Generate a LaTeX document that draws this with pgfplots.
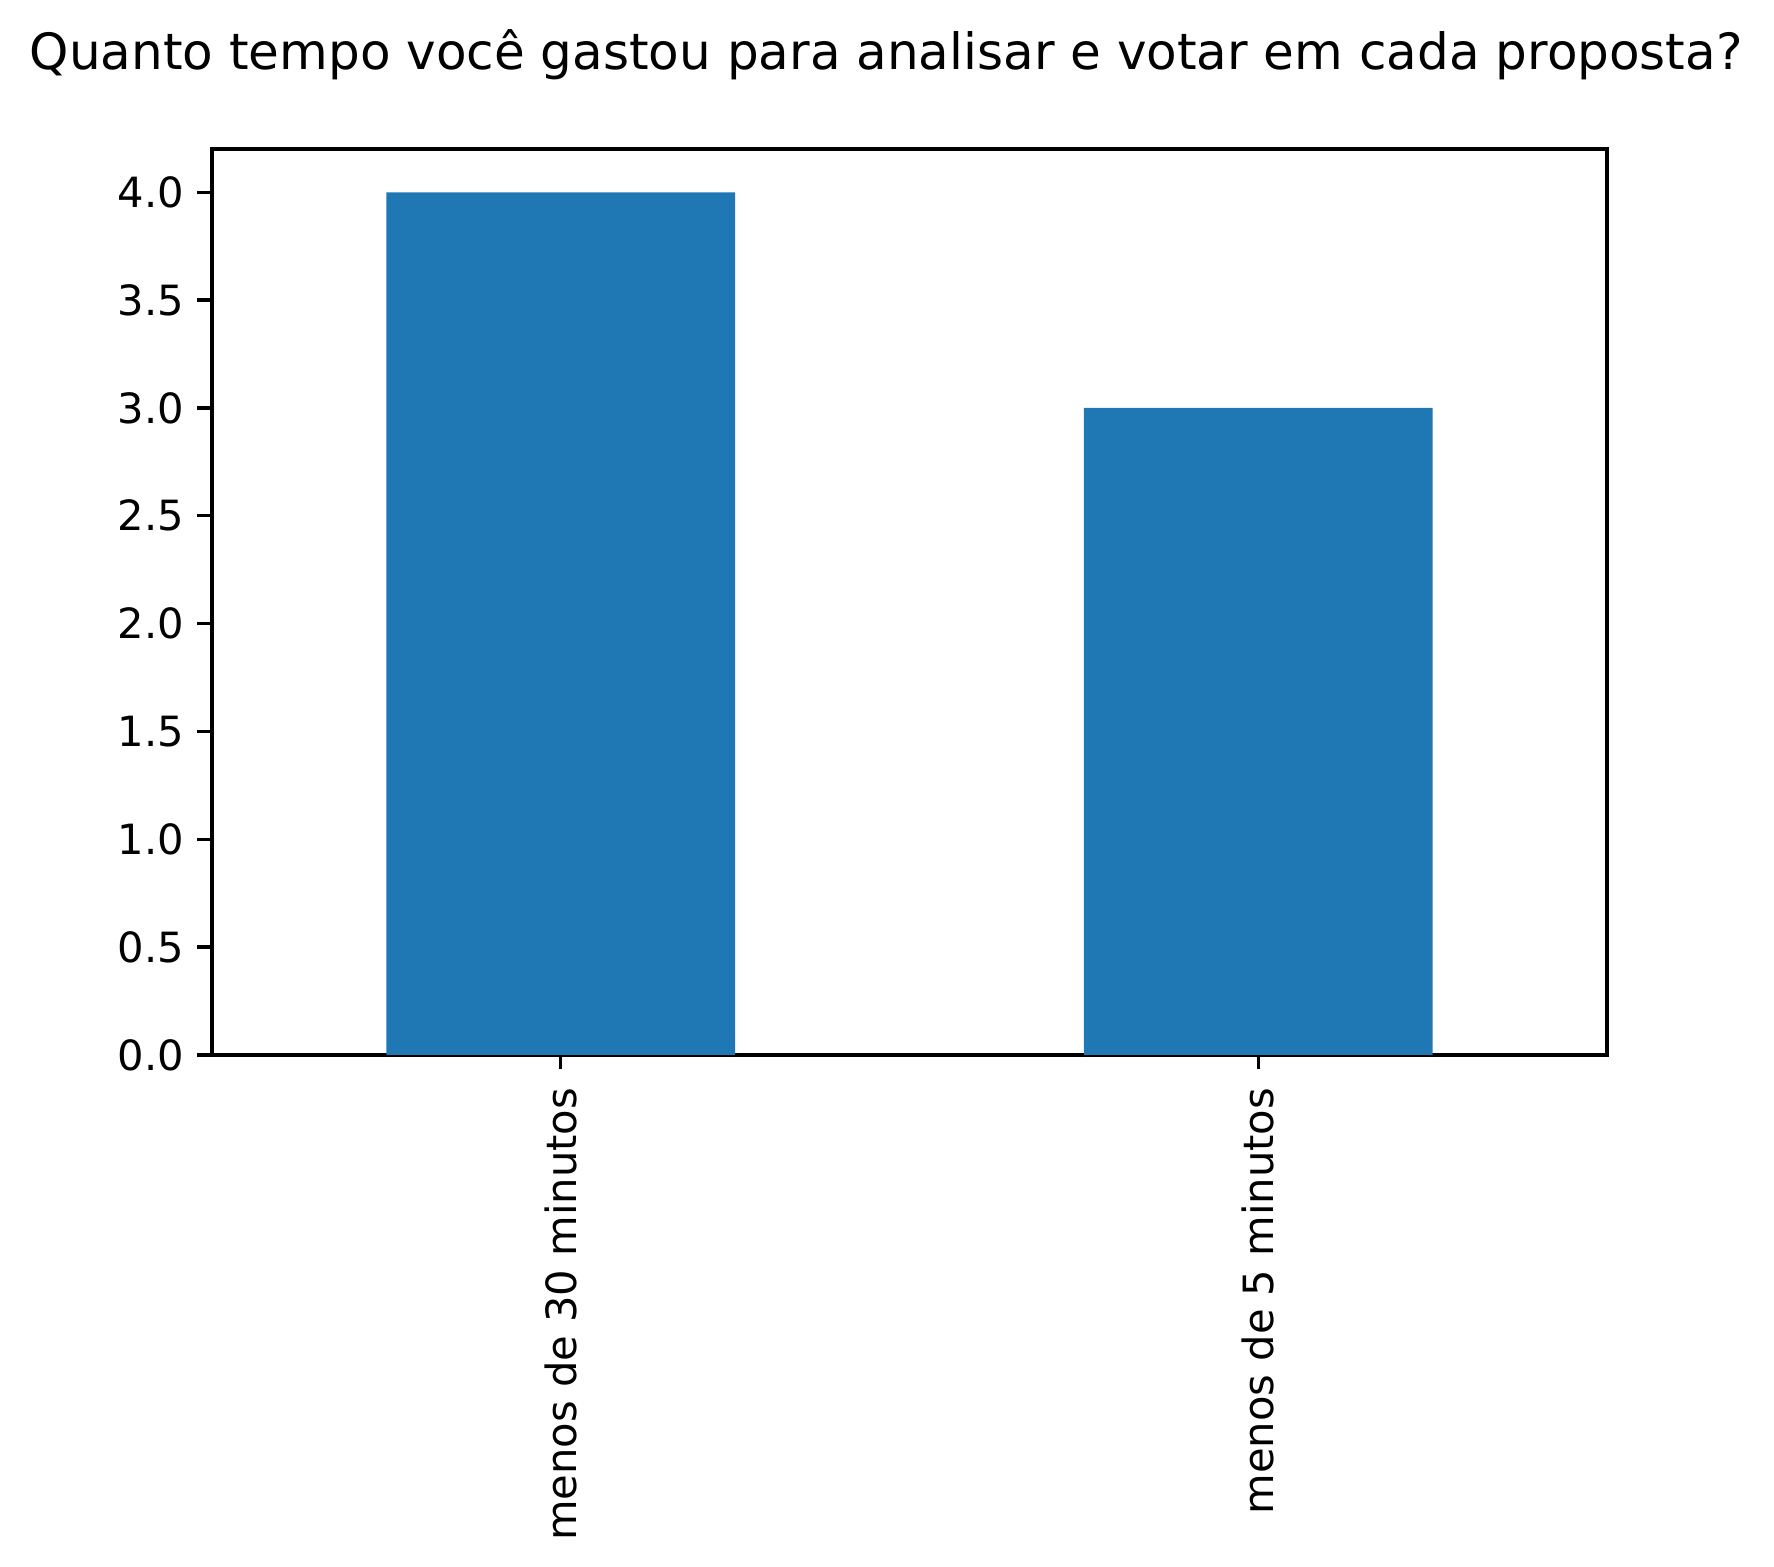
\documentclass[border=0pt]{standalone}
\usepackage{fontspec}
\setmainfont{DejaVu Sans}
\usepackage{pgfplots}
\pgfplotsset{compat=1.18}

\definecolor{barblue}{HTML}{1F77B4}

\begin{document}
\begin{tikzpicture}
\useasboundingbox (-50.9pt,-122.9pt) rectangle (374.9pt,253.2pt);
\begin{axis}[
scale only axis,
width=334.8pt, height=217.4pt,
at={(0pt,0pt)}, anchor=south west,
xmin=-0.5, xmax=1.5,
ymin=0, ymax=4.2,
axis line style={line width=0.8pt},
tick style={line width=0.8pt, color=black},
tick align=outside,
tick pos=left,
major tick length=3.5pt,
xtick={0,1},
xticklabels={menos de 30 minutos, menos de 5 minutos},
xticklabel style={rotate=90, anchor=east, inner sep=0pt, xshift=-4.2pt, font=\fontsize{10}{12}\selectfont},
ytick={0,0.5,...,4.0},
yticklabel style={anchor=east, inner sep=0pt, xshift=-3.0pt, font=\fontsize{10}{12}\selectfont},
/pgf/number format/assume math mode=true,
yticklabel={\pgfmathprintnumber[fixed, fixed zerofill, precision=1]{\tick}},
]
\addplot[ybar, bar width=0.5, fill=barblue, draw=none] coordinates {
(0,4)
(1,3)
};
\end{axis}
\node[anchor=base, font=\fontsize{12}{14.4}\selectfont] at (161.8pt,236.4pt) {Quanto tempo você gastou para analisar e votar em cada proposta?};
\end{tikzpicture}
\end{document}
